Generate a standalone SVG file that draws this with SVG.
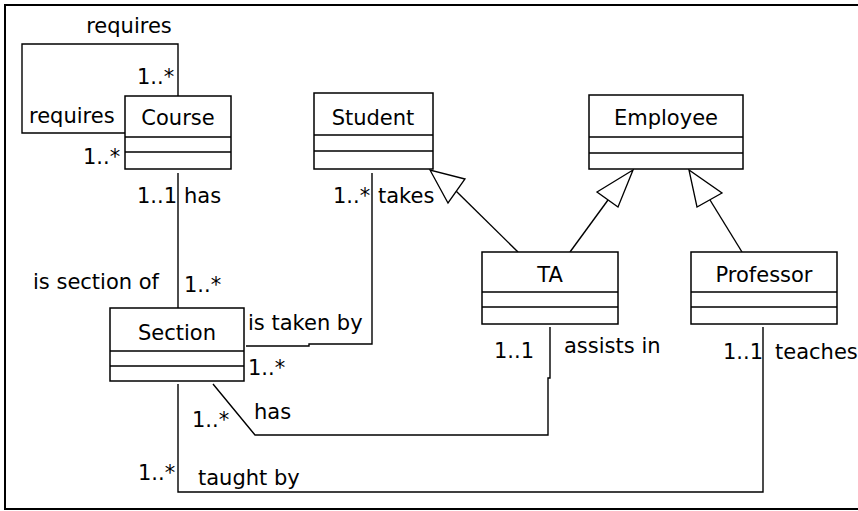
<svg xmlns="http://www.w3.org/2000/svg" width="858" height="511" viewBox="0 0 858 511">
<style>
.box{fill:#fff;stroke:#000;stroke-width:1.5}
.ln{fill:none;stroke:#000;stroke-width:1.4}
.tri{fill:#fff;stroke:#000;stroke-width:1.3}
text{font-family:"DejaVu Sans",sans-serif;font-size:21px;fill:#000}
.c{text-anchor:middle}
</style>
<rect x="0" y="0" width="858" height="511" fill="#fff"/>
<path d="M865,5 H5 V509 H865" fill="none" stroke="#000" stroke-width="2"/>
<g id="connectors">
<path class="ln" d="M178,96 V44 H22 V133 H125"/>
<path class="ln" d="M178,173 V308"/>
<path class="ln" d="M372,173 V344 H309 V346 H246"/>
<path class="ln" d="M550,327 V378 H548 V435 H255 L213,384"/>
<path class="ln" d="M763,327 V492 H178 V384"/>
<path class="ln" d="M518,252 L456,191"/>
<polygon class="tri" points="430,170 448,203 465,179"/>
<path class="ln" d="M570,252 L608,200"/>
<polygon class="tri" points="633,170 597,192 618,207"/>
<path class="ln" d="M742,252 L710,200"/>
<polygon class="tri" points="689,170 697,207 722,193"/>
<text x="129" y="33" class="c">requires</text>
<text x="137" y="84">1..*</text>
<text x="29" y="123">requires</text>
<text x="83" y="164">1..*</text>
<text x="137" y="203">1..1</text>
<text x="184" y="203">has</text>
<text x="33" y="289">is section of</text>
<text x="184" y="292">1..*</text>
<text x="333" y="203">1..*</text>
<text x="378" y="203">takes</text>
<text x="248" y="330">is taken by</text>
<text x="248" y="375">1..*</text>
<text x="192" y="427">1..*</text>
<text x="254" y="419">has</text>
<text x="138" y="480">1..*</text>
<text x="198" y="485">taught by</text>
<text x="494" y="358">1..1</text>
<text x="564" y="353">assists in</text>
<text x="723" y="359">1..1</text>
<text x="775" y="359">teaches</text>
</g>
<g id="Course">
<rect class="box" x="125" y="96" width="106" height="73"/>
<path class="ln" d="M125,137 H231 M125,152 H231"/>
<text x="178" y="125" class="c">Course</text>
</g>
<g id="Student">
<rect class="box" x="314" y="93" width="119" height="76"/>
<path class="ln" d="M314,135 H433 M314,151 H433"/>
<text x="373" y="125" class="c">Student</text>
</g>
<g id="Employee">
<rect class="box" x="589" y="95" width="154" height="74"/>
<path class="ln" d="M589,137 H743 M589,153 H743"/>
<text x="666" y="125" class="c">Employee</text>
</g>
<g id="TA">
<rect class="box" x="482" y="252" width="136" height="72"/>
<path class="ln" d="M482,292 H618 M482,307 H618"/>
<text x="550" y="282" class="c">TA</text>
</g>
<g id="Professor">
<rect class="box" x="691" y="252" width="146" height="72"/>
<path class="ln" d="M691,292 H837 M691,307 H837"/>
<text x="764" y="282" class="c">Professor</text>
</g>
<g id="Section">
<rect class="box" x="110" y="308" width="134" height="73"/>
<path class="ln" d="M110,351 H244 M110,366 H244"/>
<text x="177" y="340" class="c">Section</text>
</g>
</svg>
